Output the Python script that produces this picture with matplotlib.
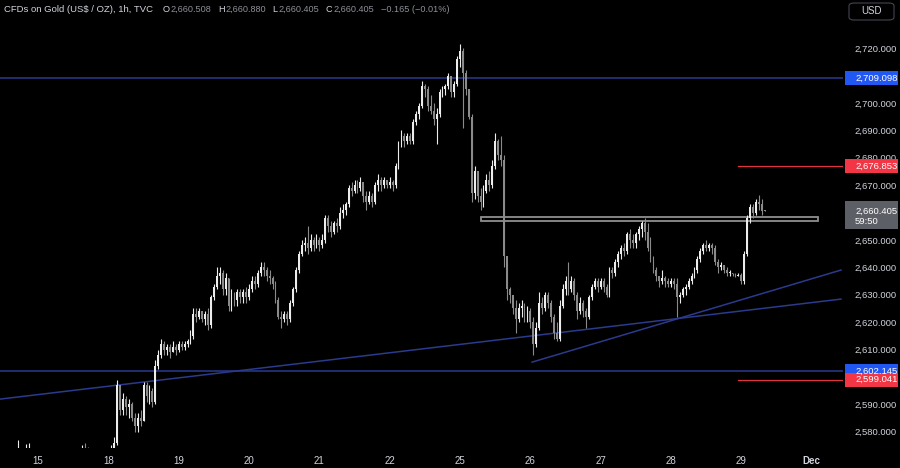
import numpy as np
import matplotlib
matplotlib.use("Agg")
import matplotlib.pyplot as plt
from matplotlib.patches import Rectangle, FancyBboxPatch
from matplotlib.transforms import blended_transform_factory

plt.rcParams['font.family'] = ['Liberation Sans', 'DejaVu Sans']

# hourly candles, bar index -8 .. 248 (24 bars per trading day, day "15" starts at 0)
first_index = -8
first_open = 2566
closes = [
    2568, 2572, 2569, 2566, 2570, 2571, 2567, 2563,  # 14
    2561, 2558, 2562, 2565, 2563, 2560, 2557, 2555, 2559, 2562, 2566, 2564,
    2568, 2565, 2567, 2571, 2569, 2566, 2563, 2565, 2567, 2566, 2564, 2563,  # 15
    2566, 2572, 2576, 2597, 2588, 2592, 2589, 2590, 2585, 2582, 2585, 2584,
    2597, 2593, 2595, 2591, 2604, 2608, 2612, 2610, 2611, 2609, 2611, 2610,  # 18
    2612, 2611, 2612, 2613, 2615, 2623, 2622, 2624, 2621, 2623, 2619, 2629,
    2633, 2637, 2638, 2632, 2636, 2626, 2630, 2628, 2631, 2629, 2631, 2629,  # 19
    2632, 2635, 2634, 2638, 2640, 2639, 2637, 2636, 2634, 2628, 2622, 2621,
    2623, 2621, 2627, 2632, 2639, 2645, 2648, 2649, 2647, 2650, 2648, 2650,  # 20
    2648, 2650, 2658, 2655, 2653, 2656, 2655, 2660, 2661, 2663, 2669, 2668,
    2670, 2669, 2671, 2666, 2664, 2666, 2664, 2670, 2672, 2670, 2672, 2670,  # 21
    2671, 2670, 2677, 2685, 2688, 2686, 2688, 2686, 2693, 2696, 2699, 2706,
    2705, 2699, 2697, 2694, 2696, 2704, 2705, 2706, 2710, 2704, 2707, 2716,  # 22
    2719, 2711, 2705, 2695, 2667, 2675, 2666, 2664, 2668, 2672, 2670, 2677,
    2686, 2681, 2679, 2644, 2632, 2630, 2625, 2621, 2625, 2626, 2622, 2624,  # 25
    2620, 2612, 2618, 2627, 2625, 2630, 2627, 2622, 2616, 2614, 2626, 2632,
    2635, 2632, 2635, 2630, 2624, 2627, 2624, 2622, 2629, 2633, 2635, 2633,  # 26
    2635, 2633, 2630, 2639, 2638, 2642, 2645, 2647, 2646, 2652, 2650, 2649,
    2652, 2654, 2656, 2653, 2647, 2643, 2639, 2637, 2635, 2636, 2635, 2634,  # 27
    2635, 2634, 2629, 2630, 2632, 2633, 2635, 2637, 2639, 2643, 2646, 2648,
    2647, 2648, 2647, 2642, 2640, 2641, 2639, 2638, 2638, 2637.5, 2637, 2637.3,  # 28
    2635, 2645, 2658, 2662, 2660, 2664, 2663, 2660.508, 2660.405,  # 29
]
highs = [
    2570, 2577, 2572, 2569, 2575.5, 2576, 2571, 2568,
    2564, 2562, 2564, 2567, 2566, 2564, 2560, 2559, 2561, 2564, 2568, 2567,
    2570, 2569, 2569, 2575, 2576, 2574.5, 2567, 2567, 2569, 2569, 2567, 2566,
    2570, 2575, 2578, 2599, 2596, 2594, 2593, 2592, 2591, 2587, 2587, 2588,
    2598, 2598, 2597, 2596, 2606, 2610, 2614, 2613, 2612, 2612, 2613, 2612,
    2613, 2613, 2613, 2614, 2617, 2625, 2625, 2625, 2624, 2624, 2625, 2630,
    2634, 2640, 2640, 2639, 2638, 2636, 2632, 2631, 2632, 2632, 2632, 2633,
    2634, 2637, 2637, 2639, 2642, 2642, 2640, 2639, 2637, 2635, 2629, 2624,
    2624, 2624, 2628, 2633, 2640, 2646, 2650, 2651, 2655, 2652, 2651, 2652,
    2651, 2652, 2659, 2659, 2657, 2657, 2658, 2662, 2663, 2664, 2670, 2671,
    2672, 2672, 2673, 2670, 2668, 2668, 2667, 2671, 2674, 2673, 2673, 2672,
    2673, 2672, 2678, 2686, 2690, 2689, 2689, 2689, 2694, 2697, 2700, 2708,
    2707, 2706, 2703, 2700, 2698, 2705, 2706, 2707, 2711, 2710, 2708, 2717,
    2721.5, 2720, 2712, 2705, 2696, 2677, 2675, 2669, 2670, 2674, 2675, 2679,
    2689, 2687, 2688, 2681, 2642, 2633, 2629, 2628, 2627, 2628, 2627, 2626,
    2625, 2622, 2620, 2631, 2629, 2631, 2631, 2628, 2623, 2620, 2628, 2634,
    2637, 2642, 2637, 2636, 2631, 2629, 2628, 2625, 2630, 2634, 2636, 2636,
    2636, 2636, 2634, 2640, 2640, 2643, 2646, 2648, 2649, 2653, 2654, 2652,
    2653, 2655, 2657, 2658, 2656, 2651, 2644, 2640, 2637, 2639, 2637, 2636,
    2636, 2636, 2636, 2631, 2633, 2634, 2636, 2638, 2640, 2644, 2647, 2649,
    2650, 2649, 2649, 2648, 2643, 2642, 2641, 2640, 2639, 2638, 2638, 2638,
    2638, 2646, 2659, 2663, 2663, 2665, 2666.5, 2665, 2660.88,
]
lows = [
    2565, 2567, 2566, 2563, 2565, 2568, 2564, 2560,
    2558, 2555, 2557, 2561, 2561, 2558, 2554, 2552, 2554, 2558, 2561, 2562,
    2563, 2563, 2564, 2566, 2567, 2563, 2561, 2562, 2564, 2564, 2562, 2561,
    2562, 2565, 2571, 2575, 2586, 2586, 2586, 2585, 2584, 2580, 2580, 2582,
    2584, 2591, 2590, 2589, 2590, 2603, 2607, 2608, 2608, 2607, 2609, 2608,
    2609, 2610, 2610, 2611, 2612, 2614, 2620, 2621, 2620, 2619, 2617, 2618,
    2628, 2632, 2634, 2630, 2630, 2624, 2624, 2626, 2626, 2627, 2627, 2627,
    2628, 2631, 2632, 2633, 2637, 2637, 2635, 2634, 2632, 2627, 2621, 2618,
    2620, 2619, 2620, 2626, 2631, 2638, 2644, 2646, 2645, 2646, 2646, 2647,
    2646, 2647, 2649, 2653, 2651, 2652, 2653, 2654, 2658, 2659, 2662, 2666,
    2667, 2667, 2668, 2664, 2661, 2663, 2662, 2663, 2668, 2668, 2669, 2669,
    2669, 2668, 2669, 2676, 2684, 2684, 2685, 2685, 2685, 2692, 2694, 2698,
    2702, 2697, 2696, 2692, 2685, 2695, 2702, 2703, 2705, 2702, 2702, 2706,
    2713, 2691, 2703, 2694, 2664, 2665, 2664, 2661, 2662, 2667, 2668, 2669,
    2676, 2679, 2677, 2640, 2628, 2627, 2623, 2616, 2620, 2622, 2620, 2620,
    2618, 2608, 2611, 2617, 2623, 2624, 2625, 2620, 2614, 2613, 2613, 2625,
    2630, 2630, 2631, 2628, 2621, 2623, 2622, 2618, 2621, 2628, 2632, 2631,
    2632, 2631, 2629, 2629, 2636, 2637, 2640, 2643, 2644, 2645, 2647, 2647,
    2647, 2650, 2651, 2650, 2646, 2642, 2638, 2635, 2633, 2634, 2633, 2633,
    2633, 2632, 2622, 2627, 2629, 2630, 2632, 2634, 2636, 2638, 2642, 2645,
    2646, 2646, 2645, 2641, 2638, 2639, 2638, 2637, 2637, 2637, 2636.5, 2636.8,
    2634, 2634, 2644, 2656, 2658, 2659, 2661, 2659, 2660.405,
]

day_labels = ['15', '18', '19', '20', '21', '22', '25', '26', '27', '28', '29', 'Dec']
bars_per_day = 24
price_ticks = [2580, 2590, 2610, 2620, 2630, 2640, 2650, 2670, 2680, 2690, 2700, 2720]

# drawings
resist_level = 2709.098
support_level = 2602.145
red_levels = [2676.853, 2599.041]
red_start = 239
zone_low, zone_high = 2657.0, 2658.5
zone_start, zone_end = 151, 266
trend1 = ([-13, 274], [2591.9, 2628.4])
trend2 = ([168.6, 274], [2605.4, 2639.0])
last_price = 2660.405

closes = np.array(closes, dtype=float)
highs = np.array(highs, dtype=float)
lows = np.array(lows, dtype=float)
opens = np.concatenate([[first_open], closes[:-1]])
opens[-1] = 2660.508
x = np.arange(len(closes)) + first_index

UP = '#ececec'
DOWN = '#8a8a8a'
BLUE_LINE = '#2b3a8c'
TXT = '#d1d4dc'

fig = plt.figure(figsize=(9, 4.68), dpi=100, facecolor='black')
ax = fig.add_axes([0, 20 / 468, 843 / 900, 448 / 468])
ax.set_facecolor('black')
ax.set_xlim(-13, 274.7)
ax.set_ylim(2574.06, 2737.56)
for s in ax.spines.values():
    s.set_visible(False)

# drawings behind candles
ax.axhline(resist_level, color=BLUE_LINE, lw=1.1, zorder=1)
ax.axhline(support_level, color=BLUE_LINE, lw=1.1, zorder=1)
ax.plot(*trend1, color=BLUE_LINE, lw=1.1, zorder=1)
ax.plot(*trend2, color=BLUE_LINE, lw=1.1, zorder=1)
for lv in red_levels:
    ax.plot([red_start, 275], [lv, lv], color='#e0343f', lw=0.9, zorder=1)
ax.add_patch(Rectangle((zone_start, zone_low), zone_end - zone_start, zone_high - zone_low,
                       facecolor='none', edgecolor='#8f8f8f', lw=1.3, zorder=1.5))

# candles
up = closes >= opens
cols = np.where(up, UP, DOWN)
ax.vlines(x, lows, highs, colors=cols, lw=0.8, zorder=2)
body_lo = np.minimum(opens, closes)
body_h = np.maximum(np.abs(closes - opens), 0.35)
ax.bar(x, body_h, bottom=body_lo, width=0.62, color=cols, linewidth=0, zorder=2.2)

# axes ticks
ax.yaxis.tick_right()
ax.set_yticks(price_ticks)
ax.set_yticklabels([f'{p:,.3f}' for p in price_ticks])
ax.tick_params(axis='y', length=0, pad=8.6, labelcolor=TXT, labelsize=6.8)
ax.set_xticks(np.arange(len(day_labels)) * bars_per_day)
ax.set_xticklabels(day_labels)
ax.tick_params(axis='x', length=0, pad=6, labelcolor=TXT, labelsize=7)
ax.get_xticklabels()[-1].set_fontweight('bold')

# price labels on the right scale
tr = blended_transform_factory(ax.transAxes, ax.transData)


def price_tag(price, color, top=2.55, bottom=2.55):
    ax.add_patch(Rectangle((845 / 843, price - bottom), 53 / 843, top + bottom,
                           transform=tr, facecolor=color, edgecolor='none',
                           clip_on=False, zorder=5))
    ax.text(855 / 843, price, f'{price:,.3f}', transform=tr, color='white',
            fontsize=6.8, ha='left', va='center', clip_on=False, zorder=6)


price_tag(resist_level, '#2157f3')
price_tag(support_level, '#2157f3')
price_tag(red_levels[0], '#f23645')
price_tag(red_levels[1], '#f23645')
price_tag(last_price, '#5d5f66', top=3.85, bottom=6.35)
ax.text(855 / 843, last_price - 3.65, '59:50', transform=tr, color='white',
        fontsize=6.8, ha='left', va='center', clip_on=False, zorder=6)

# header
fig.text(4 / 900, 1 - 9 / 468, 'CFDs on Gold (US$ / OZ), 1h, TVC', color=TXT,
         fontsize=6.8, va='center')
header = [('O', 163), ('2,660.508', 170), ('H', 218), ('2,660.880', 225),
          ('L', 272), ('2,660.405', 278), ('C', 326), ('2,660.405', 333),
          ('\u22120.165 (\u22120.01%)', 381)]
for i, (t, px) in enumerate(header):
    c = TXT if (i % 2 == 0 and i < 8) else '#8e9099'
    fig.text(px / 900, 1 - 9 / 468, t, color=c, fontsize=6.6, va='center')

# currency button
fig.add_artist(FancyBboxPatch((849 / 900, 1 - 20 / 468), 45 / 900, 17 / 468,
                              boxstyle='round,pad=0,rounding_size=0.006',
                              transform=fig.transFigure, facecolor='black',
                              edgecolor='#434651', lw=0.8))
fig.text(871 / 900, 1 - 11.5 / 468, 'USD', color=TXT, fontsize=7, ha='center', va='center')

fig.savefig('out.png', dpi=100, facecolor='black')
